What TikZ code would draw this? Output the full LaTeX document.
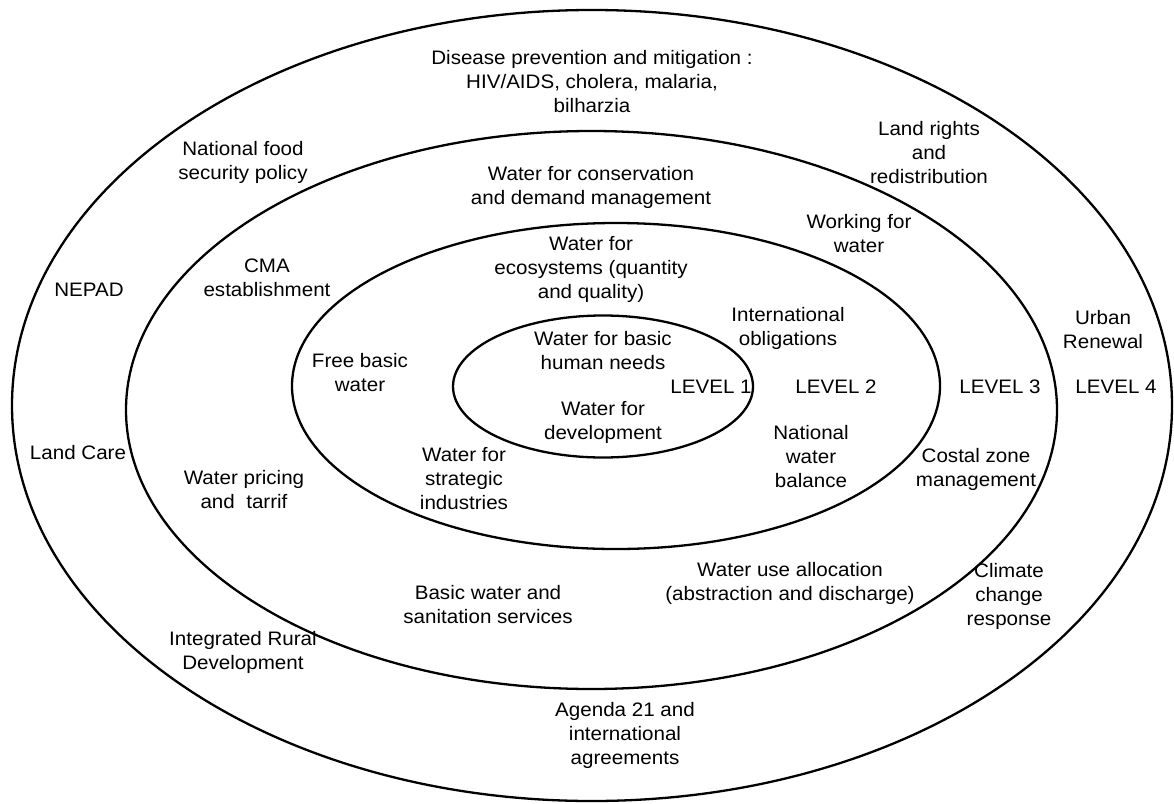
\documentclass[tikz,border=0pt]{standalone}
\usepackage{fontspec}
\setmainfont[FakeStretch=1.055]{Liberation Sans}
\begin{document}
\begin{tikzpicture}[x=1pt,y=-1pt,
  ring/.style={draw=black,line width=2.3pt},
  lbl/.style={align=center,inner sep=0pt,font=\fontsize{19.5}{24}\selectfont}]
\useasboundingbox (0,0) rectangle (1174,803);
% nested levels
\draw[ring] (592,405.5) ellipse [x radius=580,y radius=395.5];
\draw[ring] (591.5,410) ellipse [x radius=465.5,y radius=279];
\draw[ring] (616,386) ellipse [x radius=324,y radius=163];
\draw[ring] (603,386.5) ellipse [x radius=150,y radius=71];
% level labels
\node[lbl] (l1) at (711,387) {LEVEL 1};
\node[lbl] (l2) at (836,387) {LEVEL 2};
\node[lbl] (l3) at (1000,387) {LEVEL 3};
\node[lbl] (l4) at (1116,387) {LEVEL 4};
% level 1
\node[lbl] (basic) at (603,351) {Water for basic\\human needs};
\node[lbl] (dev) at (603,422) {Water for\\development};
% level 2
\node[lbl] (eco) at (591,269) {Water for\\ecosystems (quantity\\and quality)};
\node[lbl] (intl) at (788,328) {International\\obligations};
\node[lbl] (free) at (360,373) {Free basic\\water};
\node[lbl] (strat) at (464,479) {Water for\\strategic\\industries};
\node[lbl] (bal) at (811,457) {National\\water\\balance};
% level 3
\node[lbl] (cons) at (591,187) {Water for conservation\\and demand management};
\node[lbl] (work) at (859,234) {Working for\\water};
\node[lbl] (cma) at (267,278) {CMA\\establishment};
\node[lbl] (coast) at (976,469) {Costal zone\\management};
\node[lbl] (price) at (244,490) {Water pricing\\and~~tarrif};
\node[lbl] (alloc) at (790,583) {Water use allocation\\(abstraction and discharge)};
\node[lbl] (sanit) at (488,605) {Basic water and\\sanitation services};
% level 4
\node[lbl] (disease) at (592,82) {Disease prevention and mitigation :\\HIV/AIDS, cholera, malaria,\\bilharzia};
\node[lbl] (food) at (243,162) {National food\\security policy};
\node[lbl] (land) at (929,153) {Land rights\\and\\redistribution};
\node[lbl] (nepad) at (89,290) {NEPAD};
\node[lbl] (urban) at (1103,330) {Urban\\Renewal};
\node[lbl] (care) at (78,453) {Land Care};
\node[lbl] (climate) at (1009,596) {Climate\\change\\response};
\node[lbl] (rural) at (243,652) {Integrated Rural\\Development};
\node[lbl] (agenda) at (625,735) {Agenda 21 and\\international\\agreements};
\end{tikzpicture}
\end{document}
